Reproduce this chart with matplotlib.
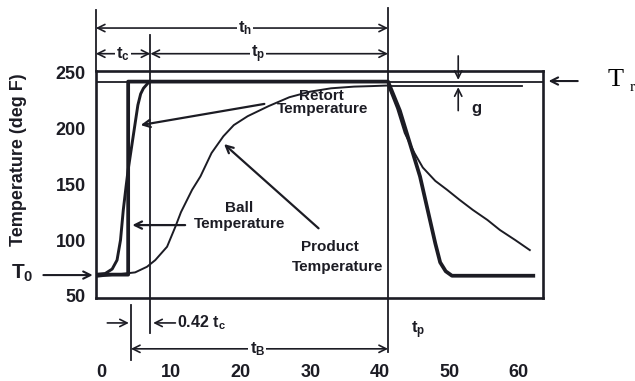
import numpy as np
import matplotlib
matplotlib.use("Agg")
import matplotlib.pyplot as plt

# ---- data (time in min, temperature in deg F) ----
retort_t = [-0.9, 3.8, 3.8, 41.2, 42.9, 45.8, 48.0, 48.7, 49.5, 50.4, 62.1]
retort_T = [69, 69, 242, 242, 216, 157, 97, 80, 72, 68, 68]

ball_t = [-0.9, 0.5, 1.5, 2.2, 2.7, 3.1, 3.5, 3.8, 4.5, 5.2, 5.6, 6.0, 6.7, 7.0]
ball_T = [69, 70, 74, 82, 100, 127, 148, 163, 192, 221, 231, 236, 241, 242]

product_t = [-0.9, 2, 4.8, 6.5, 7.7, 9.4, 10.6, 11.4, 13, 14.2, 15.8, 17.5, 19, 21,
             24, 27, 30, 33, 36.3, 39, 41.2, 42.5, 43.6, 45, 46.2, 48, 49.7, 51.5,
             53.4, 55.5, 57.3, 59.5, 61.6]
product_T = [67, 69, 71, 76, 82, 94, 112, 125, 145, 157, 178, 193, 203, 211,
             220, 228, 233, 236, 237.5, 238, 238.5, 218, 196, 178, 165, 153, 145, 136,
             127, 118, 109, 100, 91]

T_r = 242          # retort temperature line
T_g = 238          # retort temperature minus g
t_heat_end = 41.2  # end of heating (t_h)
t_come_up = 7.0    # end of come-up time (t_c)
t_ball0 = 4.2      # start of Ball process time (0.58 t_c)

x_ticks = [0, 10, 20, 30, 40, 50, 60]
y_ticks = [50, 100, 150, 200, 250]

ink = "#1c1c24"

plt.rcParams["font.family"] = ["Liberation Sans", "DejaVu Sans"]
plt.rcParams["font.weight"] = "bold"
plt.rcParams["mathtext.fontset"] = "custom"
plt.rcParams["mathtext.rm"] = "Liberation Sans:bold"
plt.rcParams["mathtext.it"] = "Liberation Sans:bold"
plt.rcParams["mathtext.bf"] = "Liberation Sans:bold"

fig = plt.figure(figsize=(6.35, 3.81), dpi=100)
ax = fig.add_axes([95.5 / 635, 1 - 297.5 / 381, (543 - 95.5) / 635, (297.5 - 71) / 381])
ax.set_xlim(-0.9, 63.5)
ax.set_ylim(48.5, 251.5)

for s in ax.spines.values():
    s.set_linewidth(1.9)
    s.set_color(ink)

ax.set_xticks(x_ticks)
ax.set_yticks(y_ticks)
ax.tick_params(length=0, labelsize=13, colors=ink)
ax.tick_params(axis="x", pad=48)
ax.tick_params(axis="y", pad=7)
ax.set_ylabel("Temperature (deg F)", fontsize=13, fontweight="bold", color=ink)
ax.yaxis.set_label_coords(-0.152, 0.607)

# curves
ax.axhline(T_r, color=ink, lw=1.3)
ax.plot([41.5, 60.5], [T_g, T_g], color=ink, lw=1.3)
ax.plot(retort_t, retort_T, color=ink, lw=2.7, solid_joinstyle="round")
ax.plot(ball_t, ball_T, color=ink, lw=2.1, solid_joinstyle="round")
ax.plot(product_t, product_T, color=ink, lw=1.4)


def arrow(x0, y0, x1, y1, style="->", lw=1.2):
    ax.annotate("", xy=(x1, y1), xytext=(x0, y0), annotation_clip=False,
                arrowprops=dict(arrowstyle=style, color=ink, lw=lw,
                                shrinkA=0, shrinkB=0, mutation_scale=13))


def vline(x, y0, y1):
    ax.plot([x, x], [y0, y1], color=ink, lw=1.3, clip_on=False)


def label(x, y, s, size=11, **kw):
    ax.text(x, y, s, fontsize=size, color=ink, ha="center", va="center",
            fontweight="bold", clip_on=False, **kw)


white = dict(facecolor="white", edgecolor="none", pad=1)

# top dimension lines
vline(-0.85, 251.5, 306)
vline(t_come_up, 16.5, 284)
vline(t_heat_end, -0.5, 308)
arrow(t_heat_end, 290, -0.85, 290, style="<->")
label(20.6, 290, r"$t_h$", 12, bbox=white)
arrow(t_come_up, 267, -0.85, 267, style="<->")
label(3.1, 267, r"$t_c$", 12, bbox=white)
arrow(t_heat_end, 267, t_come_up, 267, style="<->")
label(22.5, 267, r"$t_p$", 12, bbox=white)

# right side: T_r and g
arrow(68.5, 242.5, 64.3, 242.5, lw=1.5)
ax.text(72.8, 243, "T", fontsize=19, family="Liberation Serif", fontweight="normal",
        color="black", ha="left", va="center", clip_on=False)
ax.text(75.9, 236.5, "r", fontsize=11, family="Liberation Serif", fontweight="normal",
        color="black", ha="left", va="center", clip_on=False)
arrow(51.3, 265, 51.3, 243.5)
arrow(51.3, 216, 51.3, 237)
label(53.9, 218, "g", 12)

# curve labels
label(31.6, 229.5, "Retort", 11)
label(31.8, 217, "Temperature", 11)
arrow(23.4, 222, 5.6, 203, lw=1.6)
label(19.7, 129, "Ball", 11)
label(19.9, 114, "Temperature", 11)
arrow(12.0, 113.4, 4.4, 113.4, lw=1.6)
label(32.9, 94, "Product", 11)
label(33.9, 75.5, "Temperature", 11)
arrow(31.2, 110.5, 17.6, 186, lw=1.6)

# left: T0
label(-11.4, 70, r"$T_0$", 15)
arrow(-8.4, 68.6, -1.3, 68.6, lw=1.5)

# bottom dimension lines
vline(t_ball0, -7.4, 41.7)
arrow(0.8, 25.7, 3.9, 25.7)
arrow(10.6, 25.7, 7.4, 25.7)
ax.text(10.9, 25.7, r"$0.42\ t_c$", fontsize=11.5, color=ink, ha="left",
        va="center", clip_on=False)
arrow(t_ball0, 2.5, t_heat_end, 2.5, style="<->")
label(22.4, 2.5, r"$t_B$", 12, bbox=white)
label(45.5, 19.4, r"$t_p$", 12)

fig.savefig("out.png", dpi=100, facecolor="white")
